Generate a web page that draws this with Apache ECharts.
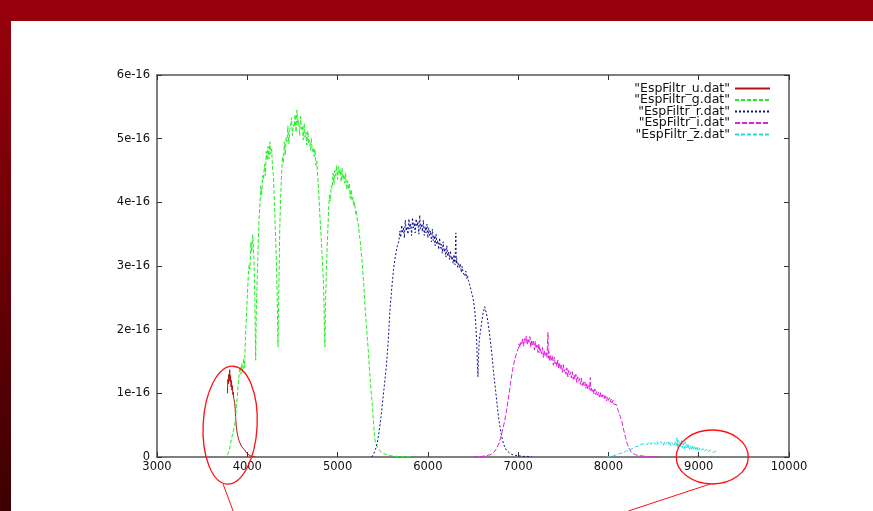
<!DOCTYPE html>
<html>
<head>
<meta charset="utf-8">
<script src="https://cdn.jsdelivr.net/npm/echarts@6/dist/echarts.min.js"></script>
<style>
    html, body { margin: 0; padding: 0; background: #fff; }
    #chart { width: 873px; height: 511px; }
</style>
</head>
<body>
<div id="chart"></div>
<script>
// flux in units of 1e-16, wavelength in Angstrom
const xTicks = [3000, 4000, 5000, 6000, 7000, 8000, 9000, 10000];
const yTicks = [0, 1, 2, 3, 4, 5, 6];
const names = ['"EspFiltr_u.dat"', '"EspFiltr_g.dat"', '"EspFiltr_r.dat"', '"EspFiltr_i.dat"', '"EspFiltr_z.dat"'];

const uData = [
    [3780, 1.0], [3785, 1.22], [3790, 1.15], [3795, 1.3], [3800, 1.2], [3805, 1.37], [3810, 1.18],
    [3815, 1.28], [3820, 1.1], [3825, 1.2], [3830, 1.05], [3835, 1.12], [3840, 0.98], [3845, 1.02],
    [3850, 0.92], [3855, 0.95], [3860, 0.86], [3866, 0.75], [3872, 0.6], [3878, 0.48], [3884, 0.42],
    [3890, 0.36], [3900, 0.3], [3910, 0.25], [3920, 0.22], [3935, 0.17], [3950, 0.14], [3965, 0.12],
    [3980, 0.09], [3995, 0.06], [4010, 0.04], [4030, 0.02], [4050, 0.01], [4070, 0.005], [4090, 0]
];

const gData = [
    [3780, 0.03], [3800, 0.1], [3820, 0.25], [3840, 0.38], [3860, 0.5], [3870, 0.62], [3880, 0.8],
    [3890, 0.95], [3900, 1.15], [3910, 1.3], [3920, 1.42], [3930, 1.3], [3940, 1.47], [3950, 1.33],
    [3960, 1.55], [3970, 1.4], [3980, 1.9], [3990, 2.2], [4000, 2.5], [4010, 2.82], [4020, 3.02],
    [4030, 2.95], [4040, 3.38], [4050, 3.22], [4060, 3.49], [4070, 3.25], [4080, 2.8], [4088, 2.0],
    [4093, 1.52], [4100, 2.3], [4110, 2.8], [4120, 3.3], [4130, 3.72], [4140, 3.98], [4150, 4.26],
    [4160, 4.12], [4170, 4.42], [4180, 4.36], [4190, 4.6], [4200, 4.42], [4210, 4.8], [4220, 4.66],
    [4230, 4.88], [4240, 4.68], [4250, 4.95], [4260, 4.76], [4270, 4.84], [4280, 4.52], [4290, 4.42],
    [4300, 4.0], [4310, 3.6], [4320, 3.2], [4330, 2.6], [4340, 1.73], [4350, 2.7], [4360, 3.6],
    [4370, 4.1], [4380, 4.45], [4390, 4.72], [4400, 4.62], [4410, 4.95], [4420, 4.74], [4430, 5.02],
    [4440, 4.95], [4450, 5.2], [4460, 4.92], [4470, 5.12], [4480, 5.1], [4490, 5.33], [4500, 5.05],
    [4510, 5.22], [4520, 5.18], [4530, 5.38], [4540, 5.1], [4550, 5.45], [4560, 5.22], [4570, 5.28],
    [4580, 5.05], [4590, 5.35], [4600, 5.15], [4610, 5.2], [4620, 4.98], [4630, 5.24], [4640, 5.02],
    [4650, 5.1], [4660, 4.9], [4670, 5.12], [4680, 4.92], [4690, 4.98], [4700, 4.82], [4710, 5.0],
    [4720, 4.8], [4730, 4.86], [4740, 4.72], [4750, 4.84], [4760, 4.58], [4770, 4.65], [4780, 4.4],
    [4790, 4.2], [4805, 3.77], [4820, 3.4], [4835, 3.0], [4845, 2.7], [4855, 2.0], [4860, 1.73],
    [4865, 2.3], [4875, 2.9], [4885, 3.3], [4900, 3.85], [4910, 4.12], [4920, 4.02], [4930, 4.26],
    [4940, 4.22], [4950, 4.46], [4960, 4.28], [4970, 4.5], [4980, 4.42], [4990, 4.58], [5000, 4.36],
    [5010, 4.56], [5020, 4.44], [5030, 4.52], [5040, 4.32], [5050, 4.54], [5060, 4.36], [5070, 4.44],
    [5080, 4.3], [5090, 4.46], [5100, 4.2], [5110, 4.34], [5120, 4.2], [5130, 4.3], [5140, 4.06],
    [5150, 4.2], [5160, 4.02], [5170, 4.08], [5180, 3.94], [5190, 4.0], [5200, 3.82], [5210, 3.86],
    [5220, 3.7], [5230, 3.65], [5240, 3.5], [5250, 3.4], [5260, 3.25], [5270, 3.1], [5280, 2.9],
    [5290, 2.7], [5300, 2.46], [5310, 2.25], [5320, 2.05], [5330, 1.85], [5340, 1.68], [5350, 1.45],
    [5360, 1.25], [5370, 1.05], [5380, 0.9], [5390, 0.7], [5400, 0.5], [5410, 0.31], [5420, 0.22],
    [5440, 0.15], [5460, 0.11], [5480, 0.08], [5500, 0.06], [5540, 0.04], [5580, 0.02], [5650, 0.01],
    [5750, 0.005], [5830, 0]
];

const rData = [
    [5380, 0], [5400, 0.05], [5420, 0.12], [5440, 0.22], [5460, 0.4], [5480, 0.62], [5500, 0.88],
    [5520, 1.15], [5540, 1.42], [5560, 1.8], [5580, 2.3], [5600, 2.65], [5620, 2.95], [5640, 3.15],
    [5660, 3.3], [5680, 3.4], [5690, 3.55], [5700, 3.45], [5710, 3.64], [5720, 3.52], [5730, 3.6],
    [5740, 3.44], [5750, 3.72], [5760, 3.55], [5770, 3.62], [5780, 3.5], [5790, 3.74], [5800, 3.58],
    [5810, 3.66], [5820, 3.48], [5830, 3.76], [5840, 3.6], [5850, 3.68], [5860, 3.52], [5870, 3.74],
    [5880, 3.62], [5890, 3.7], [5900, 3.5], [5910, 3.8], [5920, 3.58], [5930, 3.66], [5940, 3.54],
    [5950, 3.72], [5960, 3.48], [5970, 3.62], [5980, 3.52], [5990, 3.66], [6000, 3.44], [6010, 3.6],
    [6020, 3.48], [6030, 3.55], [6040, 3.38], [6050, 3.58], [6060, 3.4], [6070, 3.48], [6080, 3.32],
    [6090, 3.5], [6100, 3.34], [6110, 3.4], [6120, 3.26], [6130, 3.44], [6140, 3.28], [6150, 3.34],
    [6160, 3.2], [6170, 3.38], [6180, 3.22], [6190, 3.28], [6200, 3.14], [6210, 3.32], [6220, 3.16],
    [6230, 3.22], [6240, 3.1], [6250, 3.24], [6260, 3.1], [6270, 3.15], [6280, 3.04], [6290, 3.18],
    [6300, 3.02], [6310, 3.52], [6315, 3.04], [6320, 3.12], [6330, 2.98], [6340, 3.04], [6350, 2.97],
    [6360, 3.04], [6370, 2.9], [6380, 2.99], [6390, 2.9], [6400, 2.92], [6410, 2.84], [6420, 2.92],
    [6430, 2.8], [6440, 2.85], [6450, 2.77], [6460, 2.79], [6470, 2.67], [6480, 2.66], [6490, 2.55],
    [6500, 2.5], [6510, 2.4], [6520, 2.3], [6530, 2.1], [6540, 1.85], [6548, 1.5], [6555, 1.26],
    [6562, 1.6], [6570, 1.85], [6590, 2.05], [6610, 2.25], [6630, 2.36], [6650, 2.25], [6670, 2.08],
    [6690, 1.85], [6710, 1.6], [6730, 1.3], [6750, 1.05], [6770, 0.78], [6790, 0.55], [6810, 0.38],
    [6830, 0.25], [6850, 0.16], [6870, 0.11], [6900, 0.07], [6930, 0.04], [6960, 0.03], [7000, 0.02],
    [7050, 0.01], [7100, 0.01], [7150, 0]
];

const iData = [
    [6500, 0], [6600, 0.01], [6650, 0.02], [6700, 0.04], [6730, 0.07], [6760, 0.13], [6790, 0.22],
    [6810, 0.32], [6830, 0.44], [6850, 0.56], [6870, 0.72], [6890, 0.9], [6910, 1.1], [6930, 1.3],
    [6950, 1.45], [6970, 1.57], [6990, 1.66], [7000, 1.7], [7010, 1.78], [7020, 1.72], [7030, 1.8],
    [7040, 1.76], [7050, 1.87], [7060, 1.74], [7070, 1.86], [7080, 1.8], [7090, 1.9], [7100, 1.76],
    [7110, 1.86], [7120, 1.8], [7130, 1.89], [7140, 1.72], [7150, 1.84], [7160, 1.76], [7170, 1.82],
    [7180, 1.68], [7190, 1.82], [7200, 1.7], [7210, 1.76], [7220, 1.64], [7230, 1.78], [7240, 1.64],
    [7250, 1.7], [7260, 1.62], [7270, 1.72], [7280, 1.56], [7290, 1.68], [7300, 1.58], [7310, 1.64],
    [7320, 1.56], [7330, 1.96], [7335, 1.55], [7340, 1.66], [7350, 1.5], [7360, 1.6], [7370, 1.52],
    [7380, 1.58], [7390, 1.44], [7400, 1.57], [7410, 1.46], [7420, 1.5], [7430, 1.42], [7440, 1.52],
    [7450, 1.38], [7460, 1.48], [7470, 1.39], [7480, 1.44], [7490, 1.33], [7500, 1.45], [7510, 1.34],
    [7520, 1.38], [7530, 1.3], [7540, 1.4], [7550, 1.26], [7560, 1.36], [7570, 1.29], [7580, 1.33],
    [7590, 1.24], [7600, 1.34], [7610, 1.22], [7620, 1.29], [7630, 1.22], [7640, 1.3], [7650, 1.17],
    [7660, 1.26], [7670, 1.19], [7680, 1.23], [7690, 1.14], [7700, 1.24], [7710, 1.12], [7720, 1.19],
    [7730, 1.12], [7740, 1.18], [7750, 1.08], [7760, 1.16], [7770, 1.07], [7780, 1.12], [7790, 1.06],
    [7800, 1.25], [7805, 1.04], [7810, 1.1], [7820, 1.03], [7830, 1.07], [7840, 0.99], [7850, 1.07],
    [7860, 0.98], [7870, 1.03], [7880, 0.97], [7890, 1.02], [7900, 0.94], [7910, 1.01], [7920, 0.93],
    [7930, 0.98], [7940, 0.93], [7950, 0.97], [7960, 0.9], [7970, 0.96], [7980, 0.88], [7990, 0.94],
    [8000, 0.89], [8010, 0.93], [8020, 0.86], [8030, 0.91], [8040, 0.85], [8050, 0.89], [8060, 0.83],
    [8070, 0.86], [8080, 0.8], [8090, 0.82], [8100, 0.76], [8110, 0.72], [8130, 0.64], [8150, 0.55],
    [8170, 0.42], [8190, 0.3], [8210, 0.2], [8230, 0.13], [8250, 0.08], [8280, 0.05], [8310, 0.03],
    [8350, 0.02], [8420, 0.01], [8550, 0]
];

const zData = [
    [7980, 0], [8020, 0.01], [8060, 0.02], [8100, 0.04], [8140, 0.06], [8180, 0.08], [8220, 0.11],
    [8260, 0.13], [8300, 0.16], [8330, 0.17], [8360, 0.2], [8380, 0.18], [8400, 0.21], [8410, 0.18],
    [8420, 0.23], [8430, 0.2], [8440, 0.22], [8450, 0.18], [8460, 0.24], [8470, 0.2], [8480, 0.23],
    [8490, 0.19], [8500, 0.24], [8510, 0.21], [8520, 0.23], [8530, 0.19], [8540, 0.24], [8550, 0.2],
    [8560, 0.22], [8570, 0.19], [8580, 0.24], [8590, 0.21], [8600, 0.23], [8610, 0.18], [8620, 0.24],
    [8630, 0.2], [8640, 0.23], [8650, 0.19], [8660, 0.25], [8670, 0.2], [8680, 0.24], [8690, 0.18],
    [8700, 0.23], [8710, 0.2], [8720, 0.25], [8730, 0.17], [8740, 0.24], [8750, 0.18], [8760, 0.3],
    [8765, 0.15], [8770, 0.27], [8780, 0.17], [8790, 0.24], [8800, 0.16], [8810, 0.26], [8820, 0.14],
    [8830, 0.22], [8840, 0.13], [8850, 0.24], [8860, 0.14], [8870, 0.2], [8880, 0.13], [8890, 0.19],
    [8900, 0.12], [8910, 0.18], [8920, 0.12], [8930, 0.17], [8940, 0.11], [8950, 0.16], [8960, 0.11],
    [8970, 0.15], [8980, 0.1], [8990, 0.15], [9000, 0.1], [9010, 0.14], [9020, 0.1], [9030, 0.13],
    [9040, 0.09], [9050, 0.13], [9060, 0.09], [9070, 0.12], [9080, 0.09], [9090, 0.12], [9100, 0.08],
    [9110, 0.11], [9120, 0.08], [9130, 0.11], [9140, 0.08], [9150, 0.1], [9160, 0.07], [9170, 0.1],
    [9180, 0.07], [9190, 0.09], [9200, 0.07], [9210, 0.08]
];

const colors = ['#b01818', '#22ee22', '#10108a', '#e020e0', '#20dede'];
const dashes = ['solid', [4, 2], [2, 2], [5, 2], [4, 2]];
const allData = [uData, gData, rData, iData, zData];

const chart = echarts.init(document.getElementById('chart'));
const axisColor = '#555';
const font = 'DejaVu Sans, sans-serif';

const mirrorX = (pos, showLabel) => ({
    type: 'value',
    position: pos,
    min: xTicks[0],
    max: xTicks[xTicks.length - 1],
    interval: 1000,
    axisLine: { show: true, onZero: false, lineStyle: { color: axisColor, width: 1.5 } },
    axisTick: { show: true, inside: true, length: 5, lineStyle: { color: '#333' } },
    axisLabel: {
        show: showLabel, color: '#111', fontFamily: font, fontSize: 11.5, margin: 4,
        formatter: v => String(v)
    },
    splitLine: { show: false }
});
const mirrorY = (pos, showLabel) => ({
    type: 'value',
    position: pos,
    min: yTicks[0],
    max: yTicks[yTicks.length - 1],
    interval: 1,
    axisLine: { show: true, onZero: false, lineStyle: { color: axisColor, width: 1.5 } },
    axisTick: { show: true, inside: true, length: 5, lineStyle: { color: '#333' } },
    axisLabel: {
        show: showLabel, color: '#111', fontFamily: font, fontSize: 11.5, margin: 7,
        formatter: v => v === 0 ? '0' : v + 'e-16'
    },
    splitLine: { show: false }
});

const option = {
    animation: false,
    backgroundColor: '#fff',
    grid: { left: 157, right: 84, top: 75, bottom: 54 },
    legend: {
        orient: 'vertical',
        right: 97,
        top: 77,
        align: 'right',
        itemWidth: 35,
        itemHeight: 8,
        itemGap: -1.5,
        data: names,
        itemStyle: { opacity: 0 },
        textStyle: { fontFamily: font, fontSize: 12.5, color: '#111', lineHeight: 11.5 }
    },
    xAxis: [mirrorX('bottom', true), mirrorX('top', false)],
    yAxis: [mirrorY('left', true), mirrorY('right', false)],
    series: names.map((name, i) => ({
        name: name,
        type: 'line',
        data: allData[i],
        symbol: 'none',
        showSymbol: false,
        color: colors[i],
        lineStyle: { width: 1, color: colors[i], type: dashes[i] }
    }))
};
chart.setOption(option);

// frame of the slide + red annotations (anchored to data coordinates)
const c1 = chart.convertToPixel({ gridIndex: 0 }, [3810, 0.5]);
const c2 = chart.convertToPixel({ gridIndex: 0 }, [9150, 0]);
const red = '#ff1010';
chart.setOption({
    graphic: [
        { type: 'rect', z: -10, silent: true, shape: { x: 0, y: 0, width: 873, height: 21 },
          style: { fill: '#95000b' } },
        { type: 'rect', z: -10, silent: true, shape: { x: 0, y: 0, width: 11, height: 511 },
          style: { fill: { type: 'linear', x: 0, y: 0, x2: 0, y2: 1,
              colorStops: [{ offset: 0, color: '#9a000b' }, { offset: 1, color: '#3c0002' }] } } },
        { type: 'ellipse', z: 100, silent: true, shape: { cx: c1[0], cy: c1[1], rx: 27, ry: 59 },
          rotation: -0.05, originX: c1[0], originY: c1[1],
          style: { fill: 'none', stroke: red, lineWidth: 1.3 } },
        { type: 'ellipse', z: 100, silent: true, shape: { cx: c2[0], cy: c2[1], rx: 36, ry: 27 },
          style: { fill: 'none', stroke: red, lineWidth: 1.3 } },
        { type: 'line', z: 100, silent: true,
          shape: { x1: c1[0] - 7, y1: c1[1] + 59, x2: c1[0] + 3, y2: 511 },
          style: { stroke: red, lineWidth: 1 } },
        { type: 'line', z: 100, silent: true,
          shape: { x1: c2[0] - 2, y1: c2[1] + 27, x2: c2[0] - 84, y2: 511 },
          style: { stroke: red, lineWidth: 1 } }
    ]
});
</script>
</body>
</html>
